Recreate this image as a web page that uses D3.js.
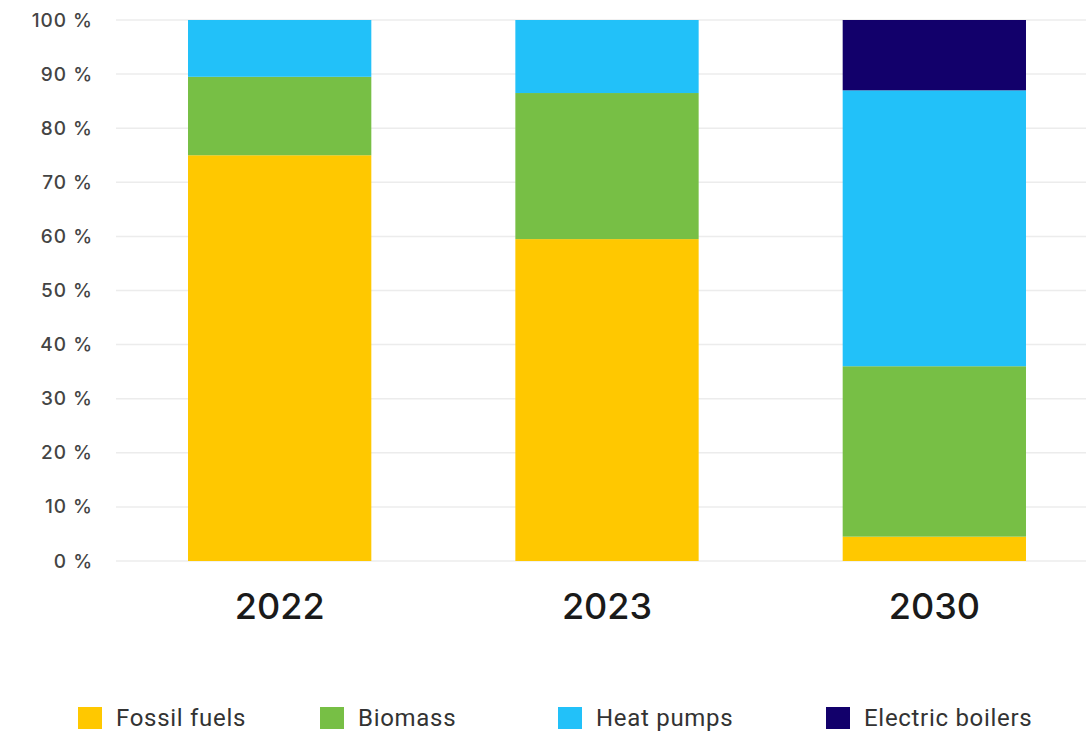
<!DOCTYPE html>
<html><head><meta charset="utf-8">
<script src="https://cdn.jsdelivr.net/npm/d3@7"></script>
<style>body{margin:0;background:#fff;} svg{display:block;}</style>
</head><body>
<svg id="chart" width="1086" height="734"></svg>
<script>
const years = ["2022", "2023", "2030"];
const seriesNames = ["Fossil fuels", "Biomass", "Heat pumps", "Electric boilers"];
const fossilFuels = [75, 59.5, 4.5];
const biomass = [14.5, 27, 31.5];
const heatPumps = [10.5, 13.5, 51];
const electricBoilers = [0, 0, 13];
const colors = ["#FFC800", "#77BF45", "#22C1F9", "#12006B"];
const yTicks = [0, 10, 20, 30, 40, 50, 60, 70, 80, 90, 100];

const rows = years.map((yr, i) => ({
  year: yr,
  "Fossil fuels": fossilFuels[i],
  "Biomass": biomass[i],
  "Heat pumps": heatPumps[i],
  "Electric boilers": electricBoilers[i]
}));

const svg = d3.select("#chart");
const plotLeft = 116, plotRight = 1086, plotTop = 20, plotBottom = 561;

const x = d3.scaleBand().domain(years).range([116, 1098]).paddingInner(0.44).paddingOuter(0.22);
const y = d3.scaleLinear().domain([0, 100]).range([plotBottom, plotTop]);

// gridlines
svg.append("g").selectAll("line").data(yTicks).join("line")
  .attr("x1", plotLeft).attr("x2", plotRight)
  .attr("y1", d => y(d)).attr("y2", d => y(d))
  .attr("stroke", "#ececec").attr("stroke-width", 1.5);

// y labels
const yAxis = d3.axisLeft(y).tickValues(yTicks).tickSize(0).tickPadding(0).tickFormat(d => d + " %");
svg.append("g").attr("transform", "translate(93,0)").call(yAxis)
  .call(g => g.select(".domain").remove())
  .call(g => g.selectAll("text").attr("font-family", "Inter, 'Open Sans', sans-serif")
    .attr("font-size", 19).attr("font-weight", 500).attr("fill", "#444").attr("letter-spacing", "1"));

// stacked bars
const stack = d3.stack().keys(seriesNames)(rows);
svg.append("g").selectAll("g").data(stack).join("g")
  .attr("fill", (d, i) => colors[i])
  .selectAll("rect").data(d => d).join("rect")
  .attr("x", d => x(d.data.year))
  .attr("width", x.bandwidth())
  .attr("y", d => y(d[1]))
  .attr("height", d => y(d[0]) - y(d[1]));

// x labels
const xAxis = d3.axisBottom(x).tickSize(0).tickPadding(0);
svg.append("g").attr("transform", "translate(0,619)").call(xAxis)
  .call(g => g.select(".domain").remove())
  .call(g => g.selectAll("text").attr("dy", 0).attr("font-family", "Inter, 'Open Sans', sans-serif")
    .attr("font-size", 36).attr("font-weight", 500).attr("fill", "#1a1a1a"));

// legend
const legendX = [78, 320, 558, 826];
const lg = svg.append("g").selectAll("g").data(seriesNames).join("g")
  .attr("transform", (d, i) => `translate(${legendX[i]},707)`);
lg.append("rect").attr("width", 24).attr("height", 22).attr("fill", (d, i) => colors[i]);
lg.append("text").attr("x", 38).attr("y", 19).text(d => d)
  .attr("font-family", "Roboto, 'Open Sans', sans-serif").attr("font-size", 24)
  .attr("letter-spacing", "0.7").attr("fill", "#333");
</script>
</body></html>
